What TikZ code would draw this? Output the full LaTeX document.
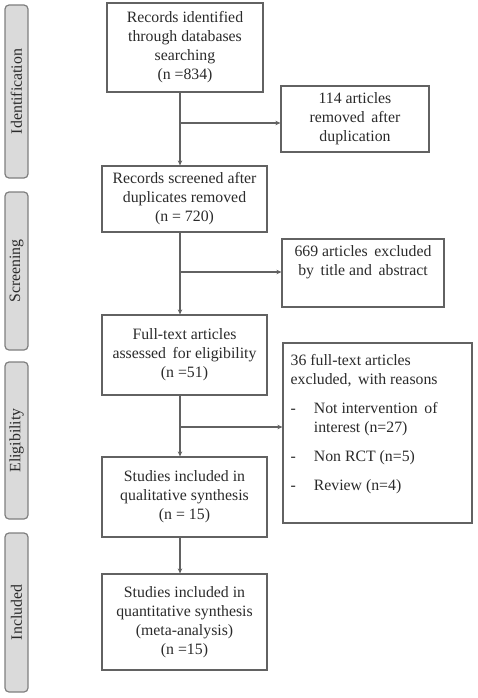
\documentclass[tikz,border=0pt]{standalone}
\usepackage{fontspec}
\setmainfont{Liberation Serif}
\usetikzlibrary{arrows.meta}
\definecolor{linegray}{HTML}{626262}
\definecolor{txtgray}{HTML}{2A2A2A}
\definecolor{barfill}{HTML}{DADADA}
\definecolor{barline}{HTML}{7F7F7F}
\begin{document}
\begin{tikzpicture}[x=1pt,y=1pt,
  txt/.style={text=txtgray, font=\fontsize{15.8}{19}\selectfont},
  box/.style={txt, draw=linegray, line width=1.2pt, align=center, inner sep=0pt},
  bar/.style={txt, draw=barline, fill=barfill, rounded corners=4pt, line width=1.2pt, rotate=90, inner sep=0pt},
  conn/.style={draw=linegray, line width=1.1pt, -{Stealth[length=5pt,width=4.5pt]}}]
\useasboundingbox (0,0) rectangle (478,-698);
% side bars
\node[bar, minimum width=173pt, minimum height=23pt] (pid) at (16.5,-91.5) {Identification};
\node[bar, minimum width=158pt, minimum height=23pt] (psc) at (16.5,-271) {Screening};
\node[bar, minimum width=157pt, minimum height=23pt] (pel) at (16.5,-440.5) {Eligibility};
\node[bar, minimum width=159pt, minimum height=23pt] (pin) at (16.5,-612.5) {Included};
% main boxes
\node[box, minimum width=156pt, minimum height=89pt] (b1) at (185,-47.5) {Records identified\\through databases\\searching\\(n =834)};
\node[box, minimum width=165pt, minimum height=66pt] (b2) at (184.5,-199) {Records screened after\\duplicates removed\\(n = 720)};
\node[box, minimum width=165pt, minimum height=80pt] (b3) at (184.5,-355) {Full-text articles\\assessed\, for eligibility\\(n =51)};
\node[box, minimum width=165pt, minimum height=80pt] (b4) at (184.5,-497) {Studies included in\\qualitative synthesis\\(n = 15)};
\node[box, minimum width=165pt, minimum height=96pt] (b5) at (184.5,-622) {Studies included in\\quantitative synthesis\\(meta-analysis)\\(n =15)};
% side boxes
\node[box, minimum width=148pt, minimum height=66pt] (r1) at (355,-119) {114 articles\\removed\, after\\duplication};
\node[box, minimum width=162pt, minimum height=68pt] (r2) at (363,-273) {669 articles\, excluded\\by\, title and\, abstract\\[6pt]};
\node[box, minimum width=189pt, minimum height=180pt] (r3) at (377.5,-433) {};
\node[txt, anchor=north west, inner sep=0pt] (r3t) at ([xshift=8pt,yshift=-10pt]r3.north west) {%
\begin{tabular}{@{}l@{\hspace{18pt}}l@{}}
\multicolumn{2}{@{}l@{}}{36 full-text articles}\\
\multicolumn{2}{@{}l@{}}{excluded,\, with reasons}\\[10pt]
- & Not intervention\, of\\
 & interest (n=27)\\[10pt]
- & Non RCT (n=5)\\[10pt]
- & Review (n=4)
\end{tabular}};
% connectors
\coordinate (sp) at (180,0);
\draw[conn] (b1.south -| sp) -- (b2.north -| sp);
\draw[conn] (b2.south -| sp) -- (b3.north -| sp);
\draw[conn] (b3.south -| sp) -- (b4.north -| sp);
\draw[conn] (b4.south -| sp) -- (b5.north -| sp);
\coordinate (j1) at (180,-123);
\coordinate (j2) at (180,-272);
\coordinate (j3) at (180,-427);
\draw[conn] (j1) -- (j1 -| r1.west);
\draw[conn] (j2) -- (j2 -| r2.west);
\draw[conn] (j3) -- (j3 -| r3.west);
\end{tikzpicture}
\end{document}
